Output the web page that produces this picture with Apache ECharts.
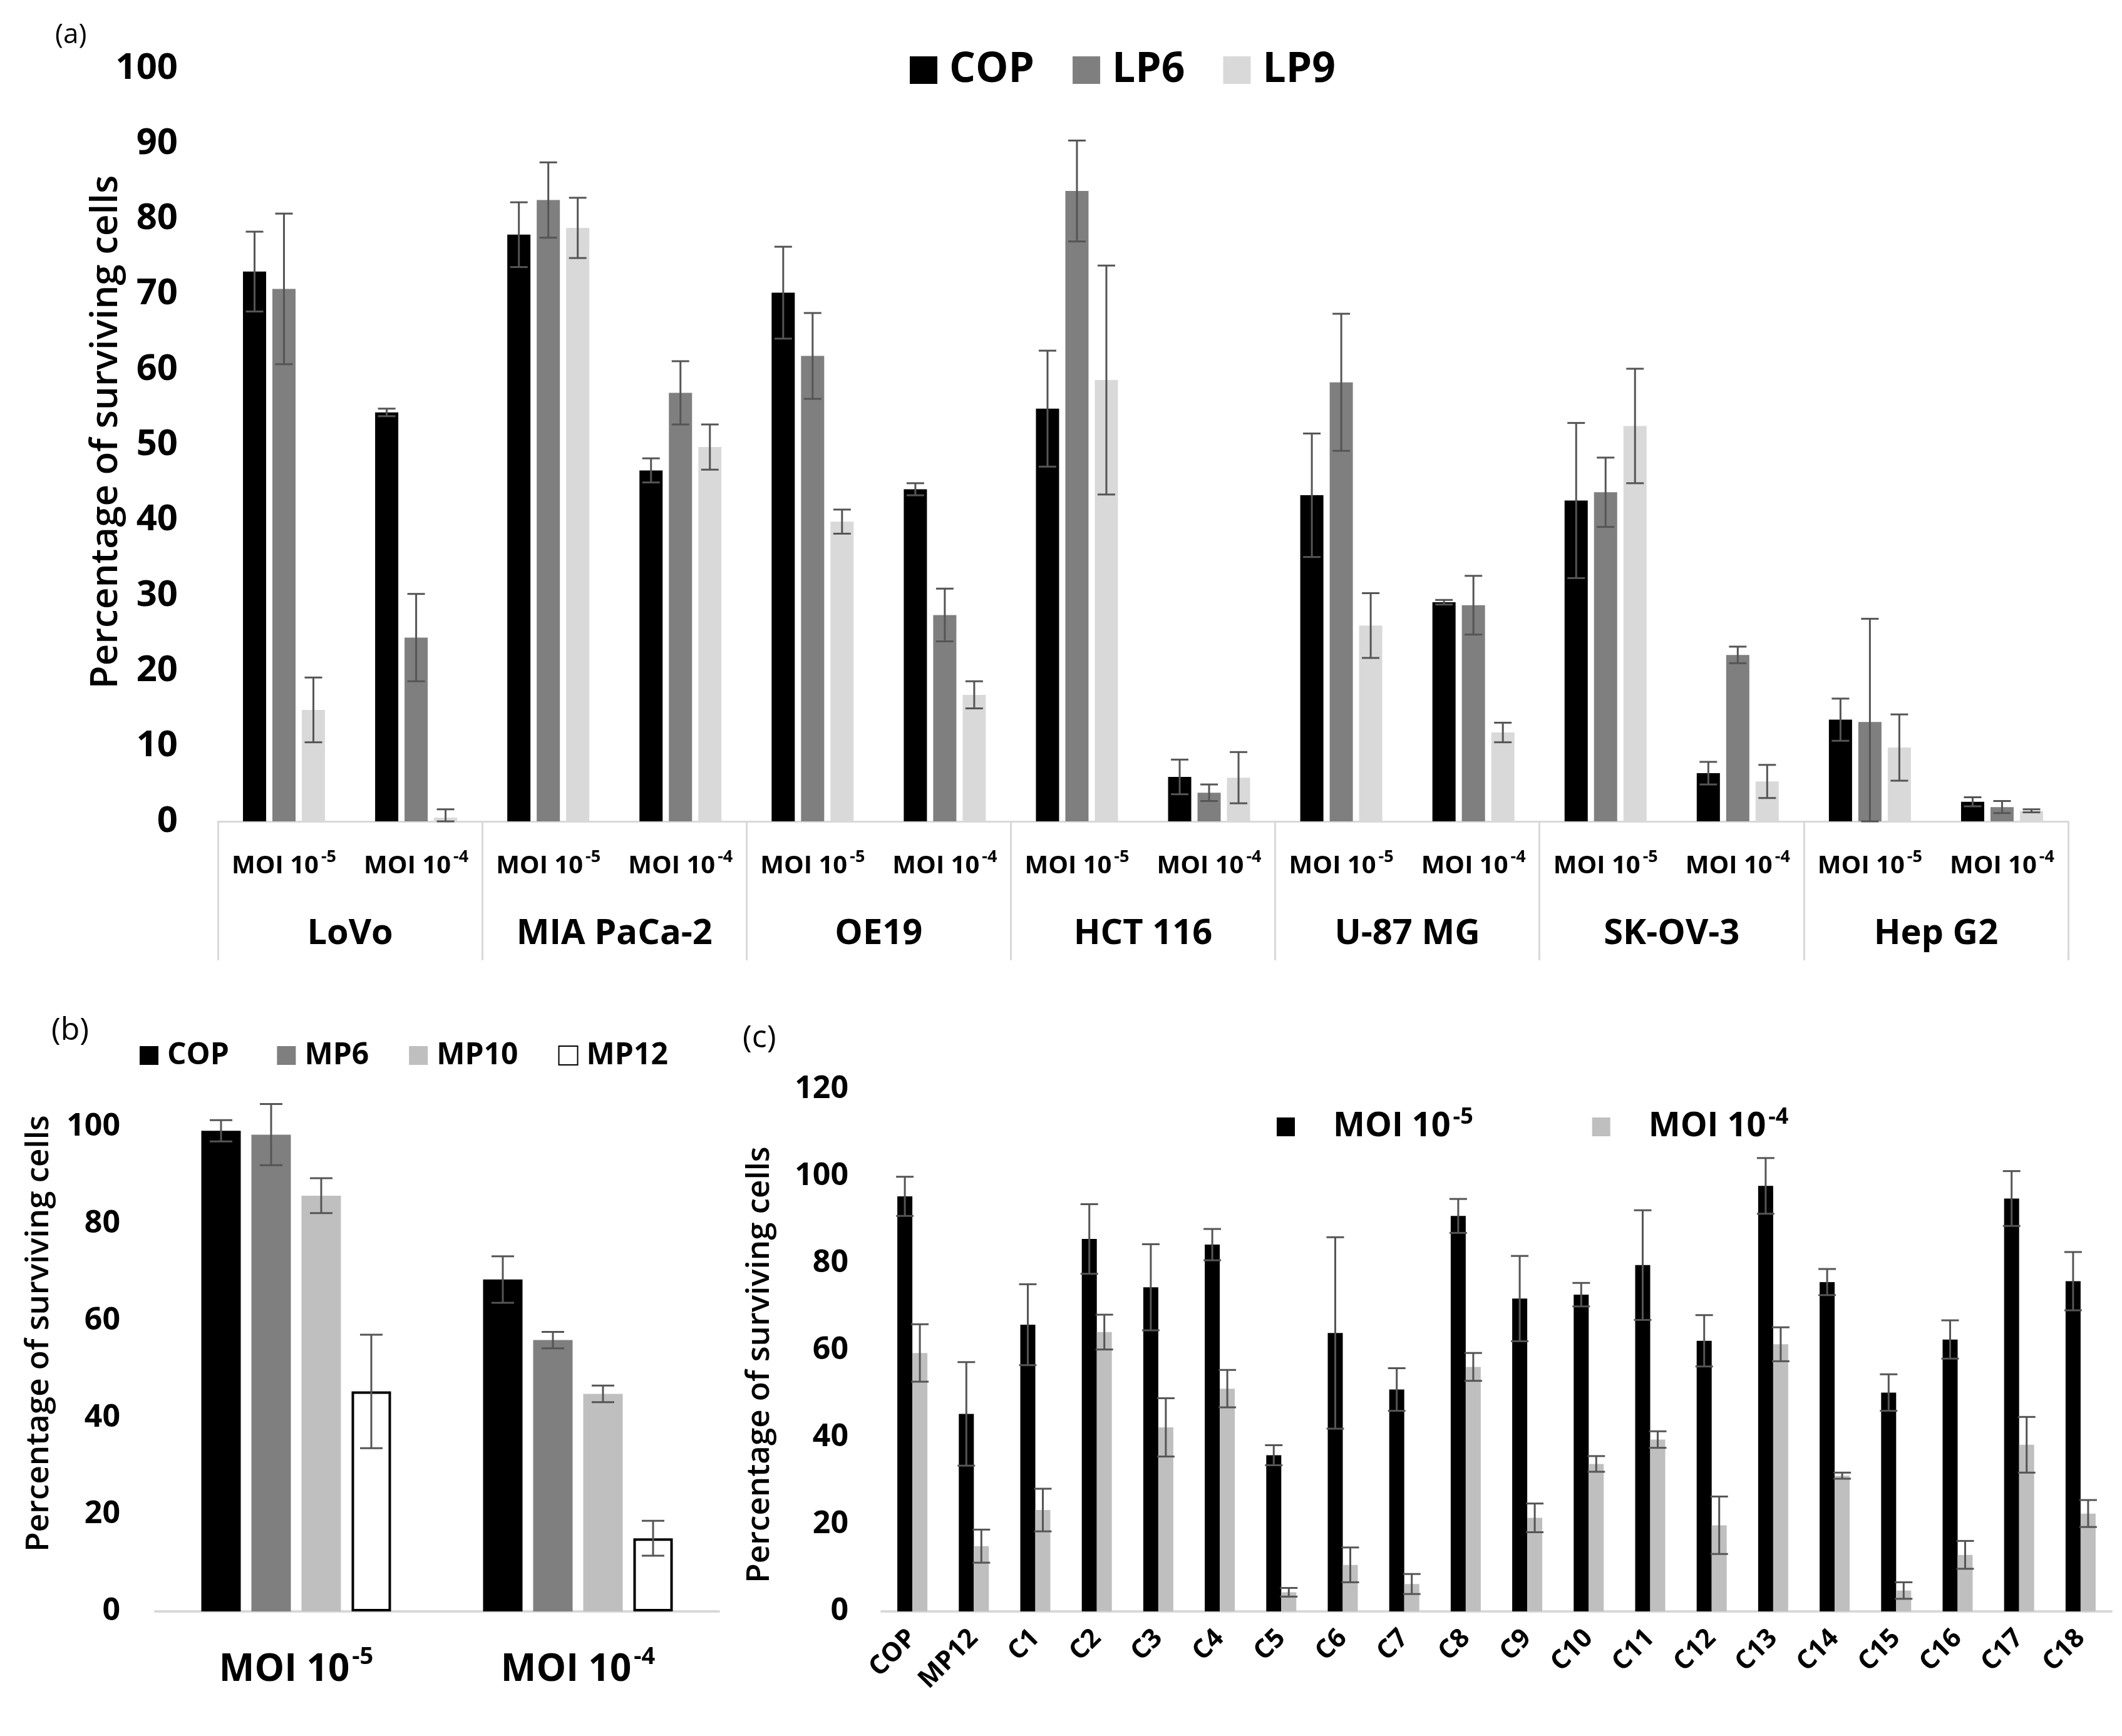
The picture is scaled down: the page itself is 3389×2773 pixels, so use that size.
<!DOCTYPE html>
<html>
<head>
<meta charset="utf-8">
<title>Percentage of surviving cells</title>
<script src="https://cdn.jsdelivr.net/npm/echarts@6/dist/echarts.min.js"></script>
<style>
  html, body { margin: 0; padding: 0; background: #fff; }
  #chart { width: 3389px; height: 2773px; }
</style>
</head>
<body>
<div id="chart"></div>
<script>
// panel (a)
var groupsA = ['LoVo', 'MIA PaCa-2', 'OE19', 'HCT 116', 'U-87 MG', 'SK-OV-3', 'Hep G2'];
var subA = ['MOI 10-5', 'MOI 10-4', 'MOI 10-5', 'MOI 10-4', 'MOI 10-5', 'MOI 10-4', 'MOI 10-5',
  'MOI 10-4', 'MOI 10-5', 'MOI 10-4', 'MOI 10-5', 'MOI 10-4', 'MOI 10-5', 'MOI 10-4'];
var copA = [73, 54.3, 77.9, 46.6, 70.2, 44.1, 54.8, 5.9, 43.3, 29.1, 42.6, 6.4, 13.5, 2.6];
var copErrA = [5.3, 0.5, 4.3, 1.6, 6.1, 0.8, 7.7, 2.3, 8.2, 0.3, 10.3, 1.5, 2.8, 0.6];
var lp6A = [70.7, 24.4, 82.5, 56.9, 61.8, 27.4, 83.7, 3.8, 58.3, 28.7, 43.7, 22.1, 13.2, 1.9];
var lp6ErrA = [10, 5.8, 5, 4.2, 5.7, 3.5, 6.7, 1.1, 9.1, 3.9, 4.6, 1.1, 13.7, 0.8];
var lp9A = [14.8, 0.5, 78.8, 49.7, 39.8, 16.8, 58.6, 5.8, 26.0, 11.8, 52.5, 5.3, 9.8, 1.4];
var lp9ErrA = [4.3, 1.1, 4, 3, 1.6, 1.8, 15.2, 3.4, 4.3, 1.3, 7.6, 2.2, 4.4, 0.2];

// panel (b)
var catsB = ['MOI 10-5', 'MOI 10-4'];
var copB = [99.2, 68.5];
var copErrB = [2.2, 4.8];
var mp6B = [98.4, 56.0];
var mp6ErrB = [6.3, 1.7];
var mp10B = [85.8, 44.9];
var mp10ErrB = [3.6, 1.7];
var mp12B = [45.4, 15.1];
var mp12ErrB = [11.7, 3.6];

// panel (c)
var catsC = ['COP', 'MP12', 'C1', 'C2', 'C3', 'C4', 'C5', 'C6', 'C7', 'C8', 'C9',
  'C10', 'C11', 'C12', 'C13', 'C14', 'C15', 'C16', 'C17', 'C18'];
var moi5C = [95.4, 45.4, 65.9, 85.6, 74.5, 84.3, 35.9, 64, 51, 90.9, 71.9, 72.8, 79.6, 62.2, 97.8, 75.7, 50.3, 62.5, 94.9, 75.9];
var moi5ErrC = [4.5, 11.9, 9.3, 8, 9.9, 3.6, 2.3, 22, 4.9, 3.9, 9.8, 2.7, 12.6, 5.9, 6.4, 3, 4.2, 4.4, 6.3, 6.7];
var moi4C = [59.4, 15.0, 23.3, 64.2, 42.3, 51.2, 4.4, 10.7, 6.3, 56.2, 21.5, 33.9, 39.5, 19.8, 61.4, 31.2, 4.8, 13, 38.3, 22.5];
var moi4ErrC = [6.6, 3.8, 4.9, 4, 6.7, 4.3, 1, 4, 2.3, 3.2, 3.3, 1.8, 1.9, 6.6, 3.9, 0.7, 1.9, 3.2, 6.4, 3.1];

var FONT = 'Open Sans';
var ERR_COLOR = '#555';
var Y_TITLE = 'Percentage of surviving cells';

/* MOI 10-5 -> rich text with superscript */
function moiLabel(v) {
  return '{b|MOI 10}{s|' + v.slice(6) + '}';
}
function moiRich(size, supSize, lh) {
  return {
    b: { fontFamily: FONT, fontWeight: 'bold', fontSize: size, lineHeight: lh, color: '#000' },
    s: { fontFamily: FONT, fontWeight: 'bold', fontSize: supSize, verticalAlign: 'top', padding: [0, 0, 0, 4], color: '#000' }
  };
}

/* error bar renderer, offset = pixel shift of the bar from category centre */
function errRender(offset, cap) {
  return function (params, api) {
    var idx = api.value(0), v = api.value(1), e = api.value(2);
    var x = api.coord([idx, v])[0] + offset;
    var yTop = api.coord([idx, v + e])[1];
    var yBot = api.coord([idx, Math.max(v - e, 0)])[1];
    var st = { stroke: ERR_COLOR, lineWidth: 3 };
    return {
      type: 'group',
      children: [
        { type: 'line', shape: { x1: x, y1: yTop, x2: x, y2: yBot }, style: st },
        { type: 'line', shape: { x1: x - cap, y1: yTop, x2: x + cap, y2: yTop }, style: st },
        { type: 'line', shape: { x1: x - cap, y1: yBot, x2: x + cap, y2: yBot }, style: st }
      ]
    };
  };
}
function errSeries(vals, errs, offset, cap, xi, yi) {
  return {
    type: 'custom',
    xAxisIndex: xi,
    yAxisIndex: yi,
    renderItem: errRender(offset, cap),
    data: vals.map(function (v, i) { return [i, v, errs[i]]; }),
    clip: false,
    z: 5,
    silent: true
  };
}
function barSeries(name, vals, color, bw, gap, xi, yi, extra) {
  var s = {
    name: name,
    type: 'bar',
    xAxisIndex: xi,
    yAxisIndex: yi,
    data: vals,
    barWidth: bw,
    barGap: gap,
    itemStyle: { color: color },
    silent: true
  };
  if (extra) s.itemStyle = extra;
  return s;
}
function yTitle(x, y, size) {
  return {
    type: 'text', x: x, y: y, rotation: Math.PI / 2,
    style: { text: Y_TITLE, font: '600 ' + size + 'px "Open Sans"', fill: '#000', align: 'center', verticalAlign: 'middle' }
  };
}

// bar geometry
var bwA = 37, gapA = 10;
var bwB = 63, gapB = 17;
var bwC = 24;

var chart = echarts.init(document.getElementById('chart'), null, { renderer: 'canvas' });

var option = {
  backgroundColor: '#fff',
  animation: false,
  textStyle: { fontFamily: FONT },
  graphic: [
    { type: 'text', left: 88, top: 34, style: { text: '(a)', font: '44px "Open Sans"', fill: '#000' } },
    { type: 'text', left: 82, top: 1622, style: { text: '(b)', font: '50px "Open Sans"', fill: '#000' } },
    { type: 'text', left: 1186, top: 1634, style: { text: '(c)', font: '50px "Open Sans"', fill: '#000' } },
    yTitle(170, 690, 60),
    yTitle(62, 2130, 51),
    yTitle(1213, 2180, 51)
  ],
  legend: [
    {
      data: ['COP', 'LP6', 'LP9'],
      left: 1448, top: 74,
      itemWidth: 44, itemHeight: 44, itemGap: 61,
      icon: 'rect',
      textStyle: { fontFamily: FONT, fontWeight: 'bold', fontSize: 66, color: '#000', padding: [0, 0, 0, 14] }
    },
    {
      data: ['COP ', 'MP6', 'MP10', 'MP12'],
      left: 218, top: 1657,
      itemWidth: 30, itemHeight: 30, itemGap: 64,
      icon: 'rect',
      textStyle: { fontFamily: FONT, fontWeight: 'bold', fontSize: 48, color: '#000', padding: [0, 0, 0, 9] }
    },
    {
      data: ['MOI 10-5', 'MOI 10-4'],
      left: 2034, top: 1762,
      itemWidth: 29, itemHeight: 30, itemGap: 190,
      icon: 'rect',
      formatter: moiLabel,
      textStyle: { fontFamily: FONT, fontWeight: 'bold', fontSize: 54, color: '#000', padding: [0, 0, 0, 56], rich: moiRich(54, 36, 66) }
    }
  ],
  grid: [
    { left: 348, top: 109, width: 2955, height: 1203, outerBoundsMode: 'none' },
    { left: 248, top: 1800, width: 900, height: 774, outerBoundsMode: 'none' },
    { left: 1408, top: 1740, width: 1964, height: 834, outerBoundsMode: 'none' }
  ],
  xAxis: [
    {
      type: 'category', gridIndex: 0, data: subA,
      axisLine: { show: false }, axisTick: { show: false },
      axisLabel: { interval: 0, margin: 44, formatter: moiLabel, rich: moiRich(40, 27, 56) }
    },
    {
      type: 'category', gridIndex: 0, data: groupsA, position: 'bottom',
      axisLine: { show: true, lineStyle: { color: '#d9d9d9', width: 3 } },
      axisTick: { show: true, length: 222, lineStyle: { color: '#d9d9d9', width: 3 } },
      axisLabel: { interval: 0, margin: 152, fontFamily: FONT, fontWeight: 'bold', fontSize: 56, color: '#000' }
    },
    {
      type: 'category', gridIndex: 1, data: catsB,
      axisLine: { show: true, lineStyle: { color: '#d9d9d9', width: 4 } },
      axisTick: { show: false },
      axisLabel: { interval: 0, margin: 54, formatter: moiLabel, rich: moiRich(60, 38, 80) }
    },
    {
      type: 'category', gridIndex: 2, data: catsC,
      axisLine: { show: true, lineStyle: { color: '#d9d9d9', width: 4 } },
      axisTick: { show: false },
      axisLabel: { interval: 0, rotate: 45, margin: 36, fontFamily: FONT, fontWeight: 'bold', fontSize: 42, color: '#000' }
    }
  ],
  yAxis: [
    {
      type: 'value', gridIndex: 0, min: 0, max: 100, interval: 10,
      axisLine: { show: false }, axisTick: { show: false }, splitLine: { show: false },
      axisLabel: { margin: 64, fontFamily: FONT, fontWeight: 'bold', fontSize: 58, color: '#000' }
    },
    {
      type: 'value', gridIndex: 1, min: 0, max: 100, interval: 20,
      axisLine: { show: false }, axisTick: { show: false }, splitLine: { show: false },
      axisLabel: { margin: 56, fontFamily: FONT, fontWeight: 'bold', fontSize: 50, color: '#000' }
    },
    {
      type: 'value', gridIndex: 2, min: 0, max: 120, interval: 20,
      axisLine: { show: false }, axisTick: { show: false }, splitLine: { show: false },
      axisLabel: { margin: 53, fontFamily: FONT, fontWeight: 'bold', fontSize: 50, color: '#000' }
    }
  ],
  series: [
    barSeries('COP', copA, '#000', bwA, (gapA / bwA * 100) + '%', 0, 0),
    barSeries('LP6', lp6A, '#7f7f7f', bwA, (gapA / bwA * 100) + '%', 0, 0),
    barSeries('LP9', lp9A, '#d9d9d9', bwA, (gapA / bwA * 100) + '%', 0, 0),
    errSeries(copA, copErrA, -(bwA + gapA), 14, 0, 0),
    errSeries(lp6A, lp6ErrA, 0, 14, 0, 0),
    errSeries(lp9A, lp9ErrA, bwA + gapA, 14, 0, 0),

    barSeries('COP ', copB, '#000', bwB, (gapB / bwB * 100) + '%', 2, 1),
    barSeries('MP6', mp6B, '#7f7f7f', bwB, (gapB / bwB * 100) + '%', 2, 1),
    barSeries('MP10', mp10B, '#bfbfbf', bwB, (gapB / bwB * 100) + '%', 2, 1),
    barSeries('MP12', mp12B, '#fff', bwB, (gapB / bwB * 100) + '%', 2, 1,
      { color: '#fff', borderColor: '#000', borderWidth: 4 }),
    errSeries(copB, copErrB, -1.5 * (bwB + gapB), 18, 2, 1),
    errSeries(mp6B, mp6ErrB, -0.5 * (bwB + gapB), 18, 2, 1),
    errSeries(mp10B, mp10ErrB, 0.5 * (bwB + gapB), 18, 2, 1),
    errSeries(mp12B, mp12ErrB, 1.5 * (bwB + gapB), 18, 2, 1),

    barSeries('MOI 10-5', moi5C, '#000', bwC, '0%', 3, 2),
    barSeries('MOI 10-4', moi4C, '#bfbfbf', bwC, '0%', 3, 2),
    errSeries(moi5C, moi5ErrC, -bwC / 2, 14, 3, 2),
    errSeries(moi4C, moi4ErrC, bwC / 2, 14, 3, 2)
  ]
};

chart.setOption(option);
</script>
</body>
</html>
